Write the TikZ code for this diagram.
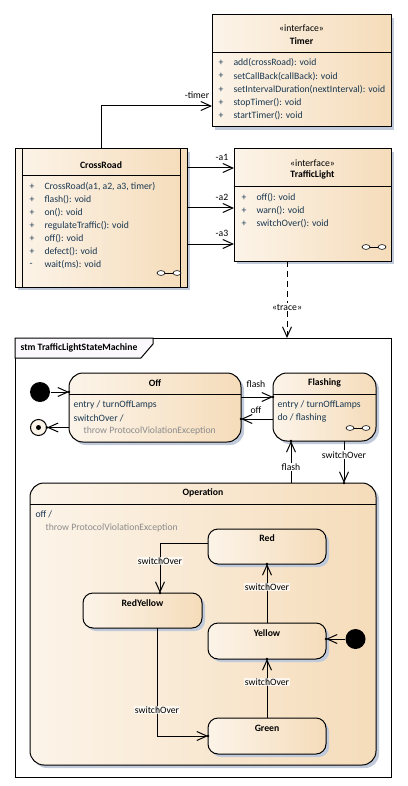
\documentclass[tikz,border=0pt]{standalone}
\usepackage{fontspec}
\setmainfont{Carlito}
\usetikzlibrary{arrows.meta,shadows,decorations.markings}
\definecolor{featcol}{RGB}{25,55,80}
\definecolor{graycol}{RGB}{140,140,140}
\definecolor{shadecol}{RGB}{192,202,218}
\definecolor{lightfill}{RGB}{252,244,233}
\definecolor{darkfill}{RGB}{245,220,186}
\definecolor{tabfill}{RGB}{250,248,252}
\tikzset{
  eafill/.style={left color=lightfill, right color=darkfill,
    drop shadow={shadow xshift=3pt, shadow yshift=-3pt, fill=shadecol, opacity=1}},
  classbox/.style={draw, eafill, rectangle, inner sep=0pt, outer sep=0pt},
  statebox/.style={draw, eafill, rectangle, rounded corners=14pt, inner sep=0pt, outer sep=0pt},
  substate/.style={statebox, rounded corners=10pt},
  initial/.style={circle, fill=black, minimum size=20pt, inner sep=0pt},
  final/.style={circle, draw, fill=lightfill, minimum size=16pt, inner sep=0pt},
  title/.style={font=\fontsize{9.7}{11}\selectfont\bfseries, inner sep=0pt},
  feat/.style={anchor=west, text=featcol, inner sep=0pt},
  lbl/.style={fill=white, inner sep=1pt},
  sublbl/.style={fill=white, fill opacity=0.7, text opacity=1, inner sep=1pt},
  assoc/.style={-{Straight Barb[length=10pt,width=9pt]}},
  trace/.style={assoc, dash pattern=on 6pt off 4pt},
  trans/.style={assoc, postaction={decorate},
    decoration={markings, mark=at position 1 with {\fill (0,0) circle (1.3pt);}}},
  pics/linked/.style={code={
    \draw[line width=0.6pt, fill=white] (-8,0) ellipse (4pt and 2.4pt);
    \draw[line width=0.6pt, fill=white] (8,0) ellipse (4pt and 2.4pt);
    \draw[line width=0.6pt] (-4,0) -- (4,0);
  }}
}
\begin{document}
\begin{tikzpicture}[x=1pt, y=-1pt, line width=1pt, font=\fontsize{9.7}{11}\selectfont]
  \useasboundingbox (0,0) rectangle (407,786);

  % Timer interface
  \node[classbox, minimum width=179pt, minimum height=112pt] (timer) at (301.5,71) {};
  \draw (timer.west |- 0,53) -- (timer.east |- 0,53);
  \node[inner sep=0pt] at (301.5,28) {«interface»};
  \node[title] at (301.5,41) {Timer};
  \foreach \m [count=\i from 0] in {add(crossRoad): void, setCallBack(callBack): void,
      setIntervalDuration(nextInterval): void, stopTimer(): void, startTimer(): void}
  {
    \node[feat] at (218,63+13.2*\i) {+};
    \node[feat] at (233,63+13.2*\i) {\m};
  }

  % CrossRoad class
  \node[classbox, minimum width=172pt, minimum height=138pt] (cross) at (101,218) {};
  \draw (22,149) -- (22,287);
  \draw (180,149) -- (180,287);
  \draw (22,176) -- (180,176);
  \node[title] at (101,165) {CrossRoad};
  \foreach \s/\m [count=\i from 0] in {+/{CrossRoad(a1, a2, a3, timer)}, +/flash(): void,
      +/on(): void, +/regulateTraffic(): void, +/off(): void, +/defect(): void, -/wait(ms): void}
  {
    \node[feat] at (29,187+13*\i) {\s};
    \node[feat] at (44,187+13*\i) {\m};
  }
  \pic at (169,273) {linked};

  % TrafficLight interface
  \node[classbox, minimum width=157pt, minimum height=112pt] (tl) at (312.5,205) {};
  \draw (tl.west |- 0,187) -- (tl.east |- 0,187);
  \node[inner sep=0pt] at (312.5,163) {«interface»};
  \node[title] at (312.5,175) {TrafficLight};
  \foreach \m [count=\i from 0] in {off(): void, warn(): void, switchOver(): void}
  {
    \node[feat] at (241,198+13*\i) {+};
    \node[feat] at (256,198+13*\i) {\m};
  }
  \pic at (374,247) {linked};

  % associations
  \draw[assoc] (cross.north) |- (timer.west |- 0,106);
  \node[inner sep=0pt] at (197,95) {-timer};
  \foreach \y/\n in {168/1, 208/2, 244/3}
  {
    \draw[assoc] (cross.east |- 0,\y) -- (tl.west |- 0,\y);
    \node[inner sep=0pt] at (222,\y-11) {-a\n};
  }

  % state machine frame
  \node[draw, rectangle, minimum width=376pt, minimum height=439pt, inner sep=0pt, outer sep=0pt] (frame) at (203,557.5) {};
  \draw[fill=tabfill] (15,338) -- (153,338) -- (153,344) -- (141,358) -- (15,358) -- cycle;
  \node[title, anchor=west] at (20,348) {stm TrafficLightStateMachine};
  \draw[trace] (tl.south -| 287,0) -- node[lbl, pos=0.6] {«trace»} (frame.north -| 287,0);

  % Off and Flashing
  \node[statebox, minimum width=172pt, minimum height=69pt] (off) at (155,407.5) {};
  \draw (off.west |- 0,394) -- (off.east |- 0,394);
  \node[title] at (155,383) {Off};
  \node[feat] at (73,405) {entry / turnOffLamps};
  \node[feat] at (73,418) {switchOver /};
  \node[feat, text=graycol] at (83,431) {throw ProtocolViolationException};

  \node[statebox, minimum width=103pt, minimum height=68pt] (flashing) at (324.5,407) {};
  \draw (flashing.west |- 0,394) -- (flashing.east |- 0,394);
  \node[title] at (324.5,383) {Flashing};
  \node[feat] at (277,405) {entry / turnOffLamps};
  \node[feat] at (277,418) {do / flashing};
  \pic at (358,428) {linked};

  \node[initial] (start) at (40,392) {};
  \node[final] (stop) at (38.5,427.5) {};
  \fill (stop.center) circle (2.5pt);

  % Operation
  \node[statebox, minimum width=346pt, minimum height=282pt] (op) at (203,624) {};
  \draw (op.west |- 0,504) -- (op.east |- 0,504);
  \node[title] at (203,493) {Operation};
  \node[feat] at (35,514) {off /};
  \node[feat, text=graycol] at (45,528) {throw ProtocolViolationException};

  \node[substate, minimum width=118pt, minimum height=35pt] (red) at (267,546.5) {};
  \node[title] at (267,538) {Red};
  \node[substate, minimum width=119pt, minimum height=35pt] (redyellow) at (142.5,610.5) {};
  \node[title] at (142.5,603) {RedYellow};
  \node[substate, minimum width=118pt, minimum height=36pt] (yellow) at (267,641) {};
  \node[title] at (267,633) {Yellow};
  \node[substate, minimum width=118pt, minimum height=36pt] (green) at (267,736) {};
  \node[title] at (267,728) {Green};
  \node[initial] (init) at (355.5,639) {};

  % transitions
  \draw[trans] (start) -- (start -| off.west);
  \draw[trans] (off.west |- stop) -- (stop);
  \draw[trans] (off.east |- 0,397) -- (flashing.west |- 0,397);
  \node[inner sep=0pt] at (256,384) {flash};
  \draw[trans] (flashing.west |- 0,419) -- (off.east |- 0,419);
  \node[inner sep=0pt] at (256,410) {off};
  \draw[trans] (flashing.south -| 344,0) -- node[lbl, pos=0.33] {switchOver} (op.north -| 344,0);
  \draw[trans] (op.north -| 291,0) -- node[lbl, pos=0.38] {flash} (flashing.south -| 291,0);

  \draw[trans] (red.west |- 0,543) -| node[sublbl, pos=0.68] {switchOver} (redyellow.north -| 160,0);
  \draw[trans] (yellow.north) -- node[sublbl, pos=0.61] {switchOver} (red.south);
  \draw[trans] (green.north) -- node[sublbl, pos=0.61] {switchOver} (yellow.south);
  \draw[trans] (redyellow.south -| 157,0) |- node[sublbl, pos=0.38] {switchOver} (green.west);
  \draw[trans] (init) -- (init -| yellow.east);
\end{tikzpicture}
\end{document}
